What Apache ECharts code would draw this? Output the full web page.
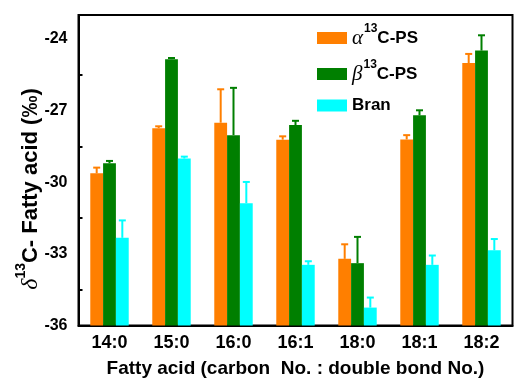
<!DOCTYPE html>
<html>
<head>
<meta charset="utf-8">
<script src="https://cdn.jsdelivr.net/npm/echarts@6/dist/echarts.min.js"></script>
<style>
html, body { margin: 0; padding: 0; background: #fff; }
#chart { width: 518px; height: 379px; }
</style>
</head>
<body>
<div id="chart"></div>
<script>
// fatty acid (carbon No. : double bond No.)
const categories = ['14:0', '15:0', '16:0', '16:1', '18:0', '18:1', '18:2']
const seriesNames = ['α13C-PS', 'β13C-PS', 'Bran']
// delta 13C values (per mil) and upper error bars
const alphaValues = [-29.63, -27.74, -27.51, -28.22, -33.21, -28.21, -25.01]
const alphaErrors = [0.24, 0.08, 1.40, 0.14, 0.61, 0.18, 0.38]
const betaValues = [-29.21, -24.85, -28.03, -27.61, -33.39, -27.20, -24.49]
const betaErrors = [0.10, 0.05, 1.98, 0.18, 1.10, 0.21, 0.64]
const branValues = [-32.33, -29.01, -30.88, -33.46, -35.25, -33.46, -32.85]
const branErrors = [0.73, 0.08, 0.89, 0.15, 0.42, 0.39, 0.47]
const yMin = -36
const yMax = -23
const yStep = 3

const colors = ['#FF7F00', '#007F00', '#00FFFF']
const font = '"Liberation Sans", Arial, sans-serif'
const serif = '"Liberation Serif", "Times New Roman", serif'

let values = [alphaValues, betaValues, branValues]
let errors = [alphaErrors, betaErrors, branErrors]

// bars grow from the bottom of the axis, so plot value - yMin
function shift(v) {
    return +(v - yMin).toFixed(3)
}

let legendRich = {
    g: { fontFamily: serif, fontStyle: 'italic', fontSize: 21, color: '#000' },
    sup: { fontFamily: font, fontWeight: 'bold', fontSize: 12, color: '#000', padding: [0, 0, 18, 1] },
    t: { fontFamily: font, fontWeight: 'bold', fontSize: 17, color: '#000' }
}
function legendLabel(name) {
    if (name === 'Bran') return '{t|Bran}'
    let greek = name.charAt(0)
    return '{g|' + greek + '}{sup|13}{t|C-PS}'
}
function makeLegend(name, top) {
    return {
        data: [name],
        left: 317,
        top: top,
        orient: 'vertical',
        icon: 'rect',
        itemWidth: 30,
        itemHeight: 12,
        itemGap: 0,
        padding: 0,
        selectedMode: false,
        formatter: legendLabel,
        textStyle: { rich: legendRich }
    }
}

let series = []
seriesNames.forEach((name, i) => {
    series.push({
        name: name,
        type: 'bar',
        data: values[i].map(shift),
        barGap: 0,
        barCategoryGap: '38%',
        itemStyle: { color: colors[i] },
        z: 2
    })
})
seriesNames.forEach((name, i) => {
    series.push({
        name: name + ' err',
        type: 'custom',
        z: 3,
        data: values[i].map((v, k) => [k, shift(v), errors[i][k]]),
        renderItem: function (params, api) {
            let band = api.size([1, 0])[0]
            let bw = band * 0.62 / 3
            let x = api.coord([api.value(0), 0])[0] + (i - 1) * bw
            let y0 = api.coord([0, api.value(1)])[1]
            let y1 = api.coord([0, api.value(1) + api.value(2)])[1]
            let style = { stroke: colors[i], lineWidth: 2 }
            return {
                type: 'group',
                children: [
                    { type: 'line', shape: { x1: x, y1: y0, x2: x, y2: y1 }, style: style },
                    { type: 'line', shape: { x1: x - 3.5, y1: y1, x2: x + 3.5, y2: y1 }, style: style }
                ]
            }
        }
    })
})

let option = {
    animation: false,
    color: colors,
    grid: {
        left: 78.5,
        right: 5.5,
        top: 15,
        bottom: 53.5,
        outerBoundsMode: 'none',
        containLabel: false,
        show: true,
        borderColor: '#000',
        borderWidth: 2
    },
    legend: [
        makeLegend(seriesNames[0], 23),
        makeLegend(seriesNames[1], 59),
        makeLegend(seriesNames[2], 97)
    ],
    // y axis title, rotated, with a superscript 13
    graphic: [
        {
            type: 'text',
            x: 31,
            y: 189,
            rotation: Math.PI / 2,
            style: {
                text: '{d|δ}{s|13}{t|C- Fatty acid (‰)}',
                align: 'center',
                verticalAlign: 'middle',
                rich: {
                    d: { fontFamily: serif, fontStyle: 'italic', fontSize: 24, fill: '#000' },
                    s: { fontFamily: font, fontWeight: 'bold', fontSize: 14, fill: '#000', padding: [0, 0, 20, 0] },
                    t: { fontFamily: font, fontWeight: 'bold', fontSize: 22, fill: '#000' }
                }
            }
        }
    ],
    xAxis: {
        type: 'category',
        data: categories,
        name: 'Fatty acid (carbon  No. : double bond No.)',
        nameLocation: 'middle',
        nameGap: 34,
        nameMoveOverlap: false,
        nameTextStyle: { fontFamily: font, fontWeight: 'bold', fontSize: 19, color: '#000' },
        axisLine: { lineStyle: { color: '#000', width: 2 } },
        axisTick: { alignWithLabel: true, length: 5, lineStyle: { color: '#000', width: 2 } },
        axisLabel: { interval: 0, margin: 9, fontFamily: font, fontWeight: 'bold', fontSize: 18, color: '#000' },
        splitLine: { show: false }
    },
    yAxis: {
        type: 'value',
        min: 0,
        max: yMax - yMin,
        interval: yStep,
        axisLine: { show: true, lineStyle: { color: '#000', width: 2 } },
        axisTick: { inside: true, length: 5, lineStyle: { color: '#000', width: 2 } },
        minorTick: { show: true, splitNumber: 2, length: 4, lineStyle: { color: '#000', width: 2 } },
        axisLabel: {
            margin: 11,
            showMaxLabel: false,
            fontFamily: font,
            fontWeight: 'bold',
            fontSize: 16,
            color: '#000',
            formatter: function (v) { return String(v + yMin) }
        },
        splitLine: { show: false }
    },
    series: series
}

var myChart = echarts.init(document.getElementById('chart'))
myChart.setOption(option)
window.addEventListener('resize', function () {
    myChart.resize()
})
</script>
</body>
</html>
